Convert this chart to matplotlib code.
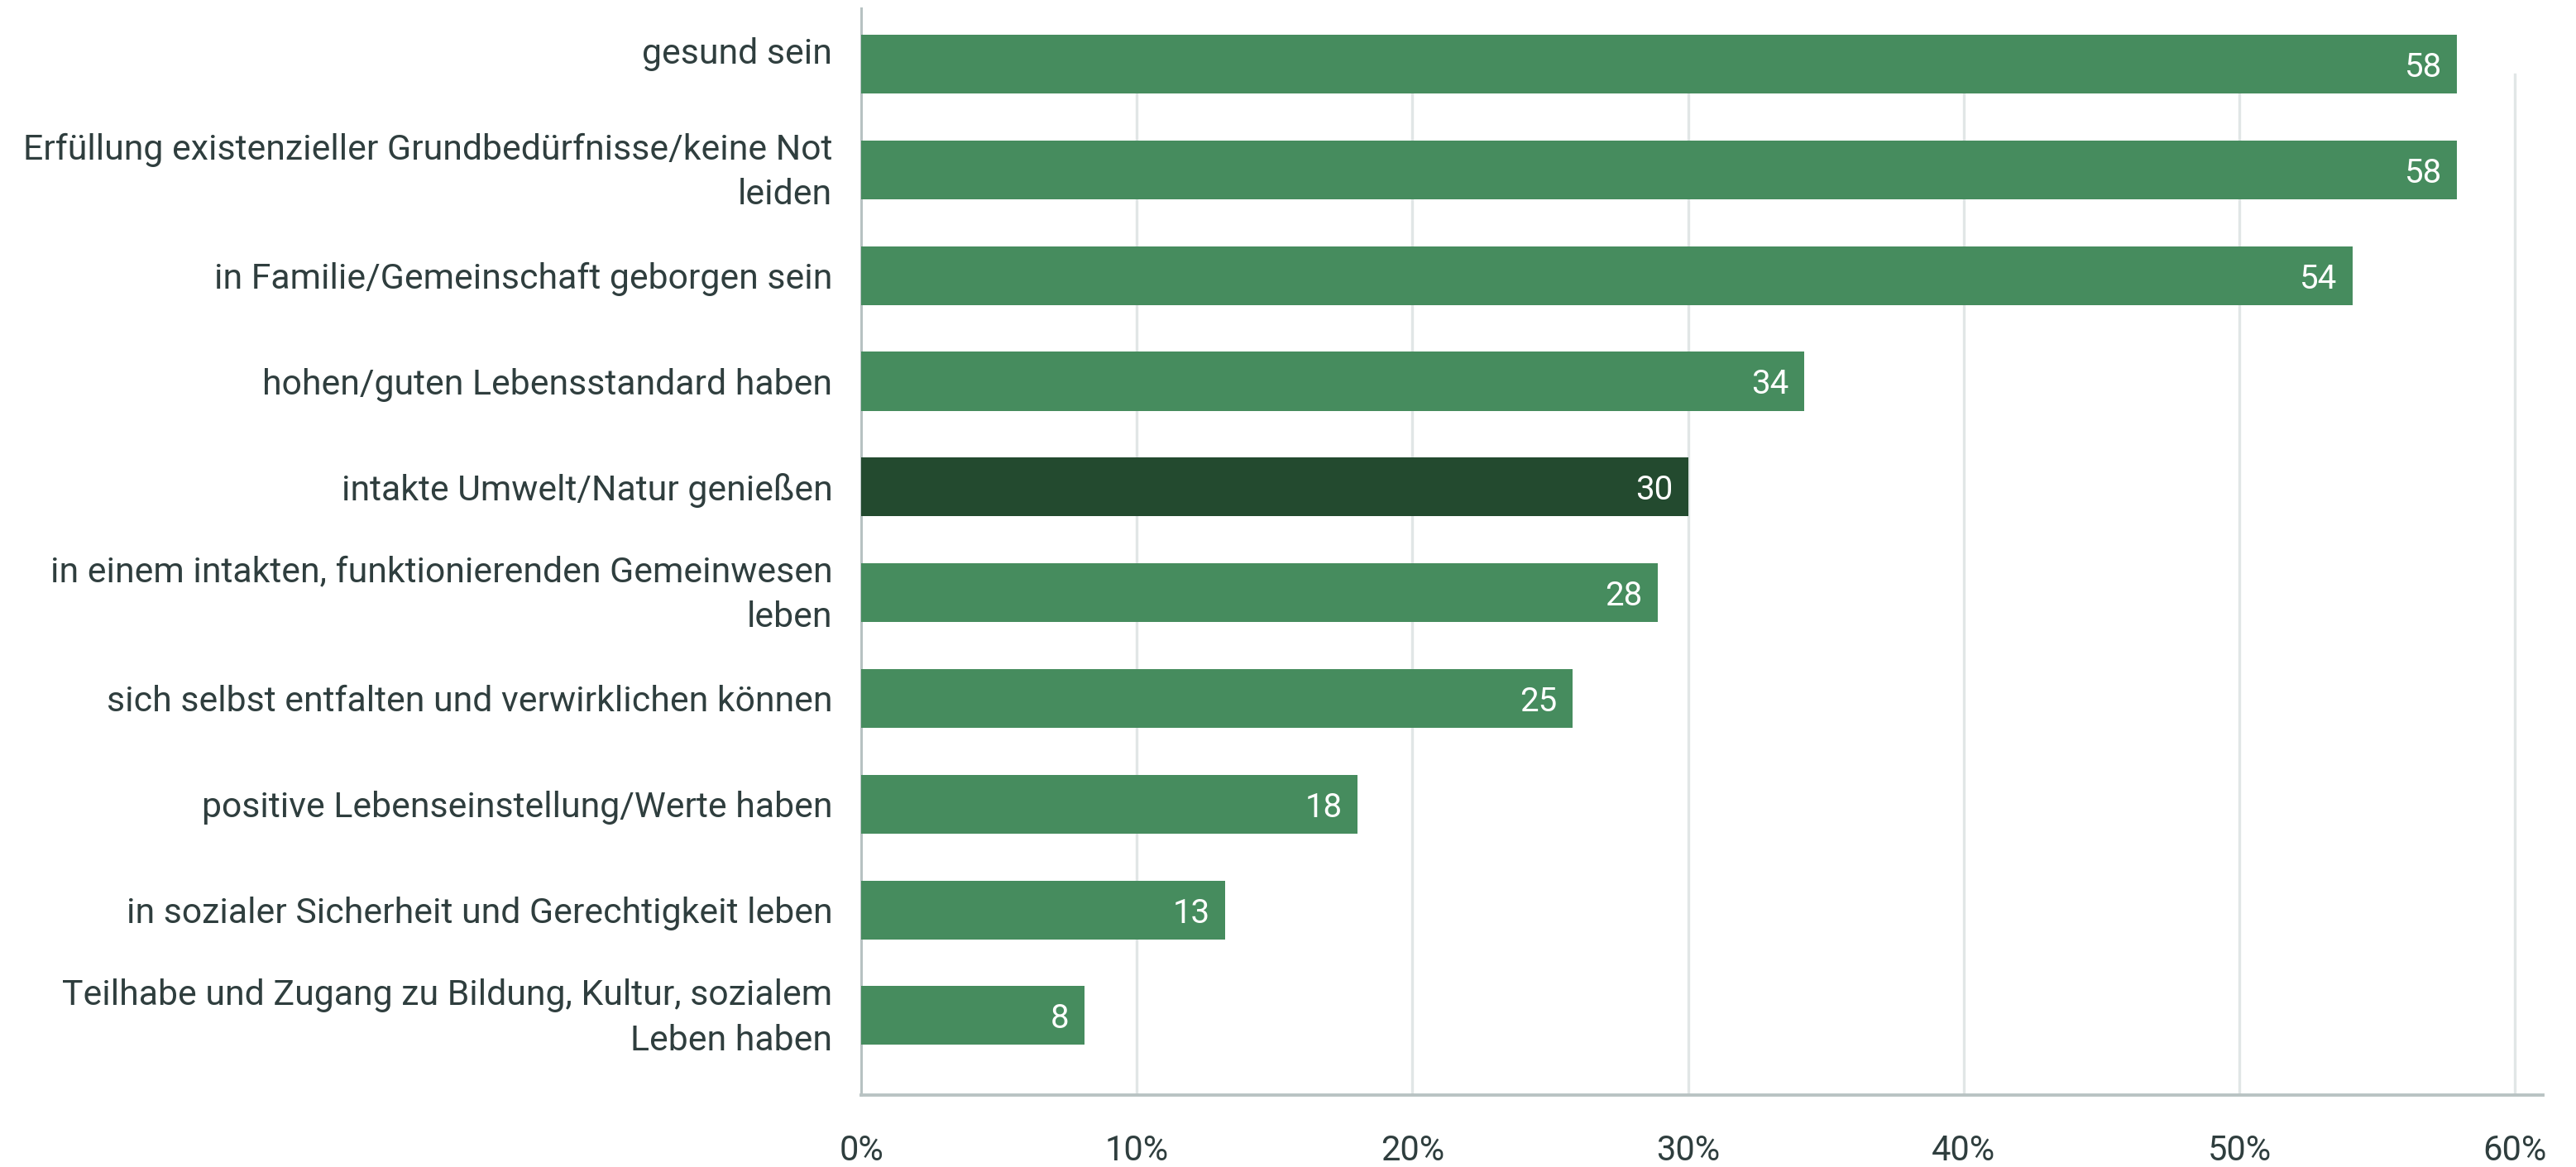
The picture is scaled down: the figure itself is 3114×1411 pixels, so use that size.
import numpy as np
import matplotlib.pyplot as plt
import matplotlib.transforms as mtransforms

plt.rcParams['font.family'] = ['Roboto', 'DejaVu Sans']

categories = [
    'gesund sein',
    'Erfüllung existenzieller Grundbedürfnisse/keine Not\nleiden',
    'in Familie/Gemeinschaft geborgen sein',
    'hohen/guten Lebensstandard haben',
    'intakte Umwelt/Natur genießen',
    'in einem intakten, funktionierenden Gemeinwesen\nleben',
    'sich selbst entfalten und verwirklichen können',
    'positive Lebenseinstellung/Werte haben',
    'in sozialer Sicherheit und Gerechtigkeit leben',
    'Teilhabe und Zugang zu Bildung, Kultur, sozialem\nLeben haben',
]
values = [57.9, 57.9, 54.1, 34.2, 30.0, 28.9, 25.8, 18.0, 13.2, 8.1]
value_labels = ['58', '58', '54', '34', '30', '28', '25', '18', '13', '8']
highlight = 'intakte Umwelt/Natur genießen'
xticks = [0, 10, 20, 30, 40, 50, 60]

text_col = '#2f3e3e'
bar_col = '#468c5e'
dark_col = '#234a2f'

fig = plt.figure(figsize=(31.14, 14.11), dpi=100)
ax = fig.add_axes([0.3343, 0.0617, 0.987 - 0.3343, 0.9929 - 0.0617])

y = np.arange(len(categories))
colors = [dark_col if c == highlight else bar_col for c in categories]
bars = ax.barh(y, values, height=0.556, color=colors, zorder=3)

for b, lab in zip(bars, value_labels):
    ax.text(b.get_width() - 0.55, b.get_y() + b.get_height() / 2, lab,
            ha='right', va='center_baseline', color='white', fontsize=29, zorder=4)

# gridlines stop just under the top bar
for t in xticks[1:]:
    ax.axvline(t, ymin=0, ymax=0.939, color='#e1e6e6', lw=2.4, zorder=1)

ax.set_xlim(0, 61)
ax.set_ylim(9.751, -0.528)
ax.set_yticks(y)
ax.set_yticklabels(categories, fontsize=30.8, color=text_col, linespacing=1.42)
ax.set_xticks(xticks)
ax.set_xticklabels([f'{t}%' for t in xticks], fontsize=30, color=text_col)
ax.tick_params(axis='y', length=0, pad=25)
ax.tick_params(axis='x', length=0, pad=34)

# small vertical nudges to match the original label placement
for i, tl in enumerate(ax.get_yticklabels()):
    dy = 0
    if i == 0:
        dy = 12
    elif '\n' in categories[i]:
        dy = 6
    if dy:
        tl.set_transform(tl.get_transform() +
                         mtransforms.ScaledTranslation(0, dy / 72, fig.dpi_scale_trans))

for s in ['top', 'right']:
    ax.spines[s].set_visible(False)
ax.spines['left'].set_color('#b7c2c2')
ax.spines['left'].set_linewidth(2.2)
ax.spines['bottom'].set_color('#b9c3c3')
ax.spines['bottom'].set_linewidth(2.8)

fig.savefig('out.png', dpi=100)
